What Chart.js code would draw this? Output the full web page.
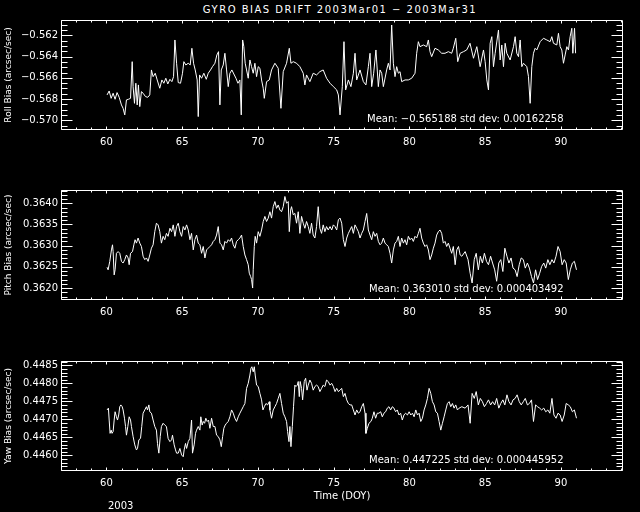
<!DOCTYPE html>
<html><head><meta charset="utf-8">
<script src="https://cdn.jsdelivr.net/npm/chart.js@4"></script>
<style>
html,body{margin:0;padding:0;background:#000;width:640px;height:512px;overflow:hidden}
canvas{position:absolute;left:0}
.t{position:absolute;color:#fff;font-family:'DejaVu Sans',sans-serif;font-size:10px;white-space:nowrap;line-height:12px}
</style></head><body>
<div class="t" style="left:20px;width:640px;text-align:center;top:4px;letter-spacing:1.5px">GYRO BIAS DRIFT 2003Mar01 − 2003Mar31</div>
<canvas id="c1" width="640" height="150" style="top:0"></canvas>
<canvas id="c2" width="640" height="150" style="top:170px"></canvas>
<canvas id="c3" width="640" height="172" style="top:340px"></canvas>
<div class="t" style="left:367px;top:113px">Mean: −0.565188 std dev: 0.00162258</div>
<div class="t" style="left:369px;top:283px">Mean: 0.363010 std dev: 0.000403492</div>
<div class="t" style="left:369px;top:454px">Mean: 0.447225 std dev: 0.000445952</div>
<div class="t" style="left:108px;top:500px">2003</div>
<script>
const dayTicks = [60, 65, 70, 75, 80, 85, 90];
const rollTicks = [-0.570, -0.568, -0.566, -0.564, -0.562];
const pitchTicks = [0.3620, 0.3625, 0.3630, 0.3635, 0.3640];
const yawTicks = [0.4460, 0.4465, 0.4470, 0.4475, 0.4480, 0.4485];

const rollDay = [60.04,60.18,60.31,60.44,60.57,60.70,60.84,60.99,61.10,61.21,61.32,61.45,61.59,61.70,61.76,61.85,61.94,62.03,62.11,62.20,62.31,62.42,62.58,62.73,62.86,62.97,63.08,63.22,63.35,63.52,63.66,63.79,63.92,64.05,64.19,64.32,64.43,64.52,64.63,64.74,64.89,65.02,65.11,65.24,65.40,65.53,65.64,65.75,65.86,65.99,66.06,66.15,66.28,66.43,66.59,66.72,66.87,67.00,67.16,67.29,67.40,67.49,67.58,67.71,67.82,67.93,68.04,68.15,68.28,68.41,68.55,68.68,68.81,68.90,68.99,69.07,69.16,69.25,69.36,69.47,69.58,69.69,69.80,69.91,70.02,70.13,70.24,70.35,70.42,70.57,70.75,
70.90,71.12,71.34,71.52,71.67,71.89,72.07,72.18,72.33,72.55,72.77,72.99,73.10,73.21,73.43,73.65,73.87,74.09,74.31,74.53,74.76,74.98,75.20,75.31,75.42,75.57,75.68,75.79,75.97,76.14,76.30,76.41,76.52,76.74,76.96,77.13,77.29,77.40,77.51,77.64,77.79,77.95,78.06,78.17,78.28,78.50,78.61,78.72,78.83,78.94,79.05,79.16,79.27,79.38,79.49,79.71,79.93,80.15,80.37,80.48,80.59,80.70,80.92,81.14,81.25,81.36,81.47,81.69,81.91,82.13,82.35,82.57,82.79,82.90,83.06,83.19,83.35,83.57,
83.78,84.00,84.23,84.45,84.67,84.89,85.00,85.11,85.22,85.33,85.44,85.55,85.66,85.88,85.99,86.10,86.21,86.32,86.43,86.65,86.87,86.98,87.09,87.20,87.31,87.42,87.53,87.75,87.86,87.97,88.08,88.19,88.30,88.41,88.63,88.85,89.07,89.29,89.40,89.51,89.73,89.84,89.95,90.06,90.17,90.28,90.39,90.50,90.61,90.72,90.79,90.90,90.97];
const rollBias = [-0.56761,-0.56724,-0.56793,-0.56745,-0.56802,-0.56739,-0.56783,-0.56855,-0.56887,-0.56949,-0.56808,-0.56802,-0.56793,-0.56448,-0.56683,-0.56840,-0.56651,-0.56855,-0.56667,-0.56871,-0.56730,-0.56745,-0.56777,-0.56783,-0.56761,-0.56526,-0.56589,-0.56557,-0.56620,-0.56698,-0.56620,-0.56651,-0.56604,-0.56658,-0.56614,-0.56636,-0.56589,-0.56244,-0.56463,-0.56645,-0.56651,-0.56557,-0.56448,-0.56479,-0.56463,-0.56479,-0.56322,-0.56463,-0.56526,-0.56620,-0.56965,-0.56573,-0.56604,-0.56557,-0.56614,-0.56557,-0.56526,-0.56495,-0.56463,-0.56385,-0.56354,-0.56855,-0.56526,-0.56479,-0.56369,-0.56526,-0.56683,-0.56557,-0.56526,-0.56564,-0.56604,-0.56651,-0.56620,-0.56949,-0.56244,-0.56307,-0.56463,-0.56526,-0.56604,-0.56432,-0.56495,-0.56557,-0.56463,-0.56589,-0.56495,-0.56510,-0.56620,-0.56698,-0.56793,-0.56636,-0.56620,
-0.56526,-0.56463,-0.56510,-0.56887,-0.56542,-0.56463,-0.56322,-0.56463,-0.56448,-0.56463,-0.56495,-0.56557,-0.56667,-0.56573,-0.56636,-0.56557,-0.56573,-0.56542,-0.56526,-0.56604,-0.56651,-0.56683,-0.56714,-0.56761,-0.56949,-0.56683,-0.56260,-0.56714,-0.56620,-0.56683,-0.56557,-0.56369,-0.56620,-0.56526,-0.56636,-0.56667,-0.56495,-0.56369,-0.56683,-0.56557,-0.56338,-0.56683,-0.56526,-0.56557,-0.56683,-0.56526,-0.56463,-0.56526,-0.56103,-0.56463,-0.56589,-0.56495,-0.56557,-0.56542,-0.56636,-0.56620,-0.56620,-0.56604,-0.56557,-0.56369,-0.56260,-0.56307,-0.56291,-0.56307,-0.56244,-0.56354,-0.56401,-0.56322,-0.56338,-0.56369,-0.56369,-0.56354,-0.56369,-0.56322,-0.56228,-0.56448,-0.56369,-0.56354,
-0.56338,-0.56275,-0.56416,-0.56307,-0.56495,-0.56338,-0.56448,-0.56620,-0.56714,-0.56275,-0.56213,-0.56495,-0.56369,-0.56150,-0.56432,-0.56291,-0.56495,-0.56275,-0.56369,-0.56432,-0.56307,-0.56213,-0.56369,-0.56401,-0.56244,-0.56495,-0.56463,-0.56495,-0.56589,-0.56840,-0.56495,-0.56369,-0.56322,-0.56338,-0.56260,-0.56228,-0.56244,-0.56260,-0.56213,-0.56275,-0.56291,-0.56181,-0.56307,-0.56338,-0.56463,-0.56385,-0.56307,-0.56338,-0.56213,-0.56134,-0.56369,-0.56134,-0.56369];

const pitchDay = [60.04,60.11,60.22,60.33,60.40,60.44,60.51,60.57,60.66,60.77,60.88,60.99,61.10,61.21,61.32,61.43,61.50,61.59,61.72,61.81,61.89,61.98,62.09,62.20,62.31,62.42,62.53,62.64,62.75,62.86,62.97,63.08,63.19,63.30,63.41,63.52,63.63,63.74,63.85,63.96,64.07,64.19,64.30,64.41,64.52,64.63,64.74,64.85,64.96,65.07,65.18,65.29,65.40,65.51,65.62,65.73,65.84,65.95,66.06,66.17,66.28,66.39,66.50,66.61,66.72,66.83,66.94,67.05,67.16,67.27,67.38,67.49,67.60,67.71,67.82,67.93,68.04,68.15,68.26,68.37,68.48,68.59,68.70,68.81,68.92,69.03,69.14,69.25,69.36,69.43,69.52,69.58,69.65,69.69,69.76,69.82,69.91,70.02,70.13,70.24,70.35,70.46,70.57,70.68,
70.79,70.90,71.01,71.12,71.23,71.34,71.45,71.56,71.67,71.78,71.89,72.00,72.07,72.16,72.22,72.33,72.44,72.55,72.66,72.77,72.88,72.99,73.10,73.21,73.32,73.43,73.54,73.65,73.76,73.87,73.98,74.09,74.20,74.31,74.42,74.53,74.64,74.76,74.87,74.98,75.09,75.20,75.31,75.42,75.53,75.64,75.75,75.86,75.97,76.08,76.19,76.30,76.41,76.52,76.63,76.74,76.85,76.96,77.07,77.18,77.29,77.40,77.51,77.62,77.73,77.84,77.95,78.06,78.17,78.28,78.39,78.50,78.61,78.72,78.83,78.94,79.05,79.16,79.27,79.38,79.49,79.60,79.71,79.82,79.93,80.04,80.15,80.26,80.37,80.48,80.59,80.70,80.81,80.92,81.03,81.14,81.25,81.36,81.47,81.58,81.69,81.80,81.91,82.02,82.13,82.24,82.35,82.46,82.57,82.68,82.79,82.90,83.02,83.13,83.24,83.35,83.46,83.68,
83.87,84.01,84.14,84.28,84.41,84.55,84.68,84.82,84.95,85.09,85.22,85.36,85.49,85.63,85.76,85.90,86.03,86.17,86.30,86.44,86.57,86.71,86.84,86.98,87.11,87.25,87.38,87.52,87.65,87.79,87.92,88.06,88.19,88.33,88.46,88.60,88.73,88.87,89.00,89.14,89.27,89.41,89.54,89.68,89.81,89.95,90.08,90.22,90.35,90.49,90.62,90.76,90.89,91.03];
const pitchBias = [0.36249,0.36243,0.36263,0.36290,0.36302,0.36286,0.36231,0.36243,0.36282,0.36286,0.36282,0.36263,0.36259,0.36267,0.36278,0.36271,0.36255,0.36282,0.36286,0.36302,0.36314,0.36306,0.36318,0.36306,0.36298,0.36275,0.36267,0.36271,0.36263,0.36278,0.36294,0.36302,0.36333,0.36353,0.36349,0.36333,0.36306,0.36322,0.36314,0.36329,0.36322,0.36341,0.36333,0.36349,0.36322,0.36345,0.36353,0.36333,0.36322,0.36345,0.36337,0.36349,0.36337,0.36314,0.36329,0.36290,0.36314,0.36325,0.36306,0.36302,0.36282,0.36298,0.36271,0.36290,0.36294,0.36298,0.36302,0.36310,0.36314,0.36325,0.36345,0.36306,0.36302,0.36290,0.36310,0.36306,0.36314,0.36310,0.36318,0.36302,0.36294,0.36310,0.36314,0.36318,0.36325,0.36298,0.36278,0.36267,0.36255,0.36235,0.36227,0.36220,0.36200,0.36243,0.36298,0.36322,0.36306,0.36333,0.36322,0.36337,0.36357,0.36369,0.36357,0.36365,
0.36380,0.36365,0.36392,0.36404,0.36388,0.36396,0.36384,0.36380,0.36392,0.36416,0.36400,0.36404,0.36333,0.36384,0.36392,0.36373,0.36376,0.36353,0.36380,0.36329,0.36369,0.36353,0.36341,0.36357,0.36345,0.36329,0.36353,0.36325,0.36318,0.36345,0.36392,0.36341,0.36329,0.36349,0.36333,0.36345,0.36337,0.36345,0.36337,0.36349,0.36345,0.36337,0.36361,0.36365,0.36353,0.36314,0.36298,0.36318,0.36329,0.36337,0.36345,0.36329,0.36349,0.36341,0.36333,0.36318,0.36329,0.36337,0.36357,0.36376,0.36337,0.36325,0.36314,0.36333,0.36322,0.36329,0.36310,0.36302,0.36306,0.36318,0.36306,0.36302,0.36298,0.36282,0.36259,0.36290,0.36306,0.36310,0.36322,0.36298,0.36318,0.36306,0.36314,0.36302,0.36322,0.36314,0.36318,0.36310,0.36322,0.36318,0.36329,0.36341,0.36318,0.36306,0.36298,0.36302,0.36290,0.36267,0.36278,0.36294,0.36306,0.36325,0.36333,0.36337,0.36329,0.36306,0.36310,0.36298,0.36306,0.36294,0.36282,0.36298,0.36255,0.36290,0.36298,0.36278,0.36275,0.36286,
0.36267,0.36235,0.36212,0.36267,0.36282,0.36243,0.36275,0.36259,0.36282,0.36263,0.36255,0.36275,0.36259,0.36243,0.36216,0.36259,0.36267,0.36239,0.36294,0.36275,0.36259,0.36271,0.36247,0.36243,0.36227,0.36255,0.36271,0.36267,0.36247,0.36259,0.36247,0.36227,0.36212,0.36243,0.36220,0.36235,0.36251,0.36259,0.36247,0.36267,0.36255,0.36267,0.36259,0.36275,0.36298,0.36286,0.36255,0.36267,0.36259,0.36220,0.36243,0.36259,0.36263,0.36243];

const yawDay = [60.04,60.13,60.18,60.24,60.31,60.37,60.44,60.51,60.57,60.66,60.73,60.81,60.88,60.95,61.04,61.10,61.19,61.26,61.32,61.41,61.50,61.59,61.65,61.76,61.87,61.98,62.05,62.14,62.25,62.33,62.42,62.53,62.64,62.71,62.80,62.86,62.97,63.08,63.19,63.30,63.37,63.46,63.55,63.63,63.74,63.85,63.96,64.07,64.19,64.30,64.36,64.47,64.56,64.63,64.74,64.85,64.96,65.07,65.13,65.22,65.29,65.40,65.51,65.62,65.68,65.79,65.88,65.95,66.06,66.17,66.23,66.32,66.39,66.48,66.56,66.65,66.74,66.83,66.94,67.05,67.16,67.27,67.38,67.49,67.58,67.67,67.75,67.84,67.93,68.04,68.15,68.26,68.37,68.48,68.59,68.70,68.81,68.92,69.03,69.14,69.25,69.36,69.47,69.54,69.60,69.69,69.76,69.82,69.91,70.02,70.13,70.24,70.33,70.42,70.53,70.64,70.75,
70.79,70.90,71.01,71.12,71.23,71.34,71.45,71.56,71.67,71.78,71.89,71.96,72.05,72.11,72.18,72.27,72.35,72.44,72.51,72.60,72.66,72.73,72.79,72.88,72.95,73.06,73.15,73.24,73.32,73.43,73.54,73.65,73.76,73.87,73.98,74.09,74.20,74.31,74.42,74.53,74.64,74.76,74.87,74.98,75.09,75.20,75.31,75.42,75.53,75.64,75.75,75.86,75.97,76.08,76.19,76.30,76.41,76.52,76.63,76.74,76.85,76.96,77.07,77.13,77.22,77.33,77.46,77.55,77.66,77.77,77.88,77.99,78.10,78.21,78.32,78.43,78.54,78.65,78.76,78.87,78.98,79.09,79.20,79.31,79.42,79.53,79.64,79.75,79.87,79.98,80.09,80.20,80.31,80.42,80.53,80.64,80.75,80.86,80.97,81.08,81.19,81.30,81.41,81.52,81.63,81.74,81.85,81.96,82.07,82.18,82.29,82.40,82.51,82.62,82.73,82.84,82.95,83.06,83.17,83.28,83.46,83.68,
83.87,84.01,84.14,84.28,84.41,84.55,84.68,84.82,84.95,85.09,85.22,85.36,85.49,85.63,85.76,85.90,86.03,86.17,86.30,86.44,86.57,86.71,86.84,86.98,87.11,87.25,87.38,87.52,87.65,87.79,87.92,88.06,88.19,88.33,88.46,88.60,88.73,88.87,89.00,89.14,89.27,89.41,89.54,89.68,89.81,89.95,90.08,90.22,90.35,90.49,90.62,90.76,90.89,91.03];
const yawBias = [0.44726,0.44731,0.44698,0.44661,0.44670,0.44661,0.44666,0.44698,0.44721,0.44707,0.44698,0.44712,0.44735,0.44740,0.44735,0.44726,0.44703,0.44680,0.44656,0.44680,0.44707,0.44698,0.44680,0.44652,0.44629,0.44615,0.44619,0.44643,0.44647,0.44680,0.44717,0.44726,0.44735,0.44726,0.44740,0.44721,0.44717,0.44698,0.44680,0.44670,0.44633,0.44606,0.44652,0.44680,0.44689,0.44684,0.44680,0.44647,0.44638,0.44643,0.44656,0.44629,0.44615,0.44606,0.44606,0.44619,0.44601,0.44596,0.44615,0.44633,0.44619,0.44638,0.44647,0.44698,0.44606,0.44629,0.44661,0.44670,0.44680,0.44670,0.44707,0.44684,0.44694,0.44689,0.44703,0.44694,0.44698,0.44675,0.44703,0.44680,0.44680,0.44656,0.44652,0.44643,0.44624,0.44652,0.44675,0.44684,0.44689,0.44694,0.44707,0.44726,0.44717,0.44703,0.44694,0.44707,0.44717,0.44726,0.44735,0.44744,0.44786,0.44800,0.44823,0.44842,0.44846,0.44832,0.44846,0.44823,0.44795,0.44791,0.44772,0.44754,0.44726,0.44735,0.44744,0.44740,0.44749,
0.44726,0.44703,0.44726,0.44735,0.44744,0.44758,0.44772,0.44744,0.44717,0.44707,0.44694,0.44666,0.44638,0.44680,0.44624,0.44680,0.44735,0.44795,0.44791,0.44795,0.44805,0.44763,0.44805,0.44786,0.44754,0.44805,0.44814,0.44781,0.44795,0.44809,0.44800,0.44781,0.44791,0.44795,0.44791,0.44777,0.44786,0.44795,0.44791,0.44809,0.44805,0.44795,0.44800,0.44791,0.44777,0.44786,0.44777,0.44781,0.44786,0.44763,0.44772,0.44754,0.44744,0.44740,0.44740,0.44726,0.44712,0.44726,0.44717,0.44721,0.44735,0.44744,0.44717,0.44661,0.44675,0.44689,0.44694,0.44703,0.44721,0.44703,0.44717,0.44717,0.44721,0.44707,0.44717,0.44721,0.44731,0.44735,0.44726,0.44735,0.44731,0.44721,0.44726,0.44712,0.44717,0.44698,0.44712,0.44717,0.44712,0.44721,0.44712,0.44717,0.44707,0.44726,0.44712,0.44717,0.44694,0.44703,0.44726,0.44740,0.44758,0.44786,0.44772,0.44749,0.44740,0.44721,0.44717,0.44694,0.44670,0.44689,0.44707,0.44726,0.44744,0.44749,0.44735,0.44744,0.44731,0.44740,0.44726,0.44731,0.44735,0.44731,
0.44740,0.44689,0.44772,0.44758,0.44777,0.44740,0.44758,0.44749,0.44735,0.44744,0.44754,0.44740,0.44749,0.44740,0.44758,0.44731,0.44744,0.44754,0.44740,0.44768,0.44749,0.44740,0.44754,0.44758,0.44768,0.44749,0.44740,0.44749,0.44758,0.44740,0.44744,0.44754,0.44694,0.44740,0.44735,0.44731,0.44726,0.44731,0.44721,0.44726,0.44717,0.44758,0.44712,0.44703,0.44717,0.44712,0.44694,0.44712,0.44744,0.44740,0.44735,0.44721,0.44726,0.44703];

const FONT = "'DejaVu Sans', sans-serif";
Chart.defaults.color = '#fff';
Chart.defaults.font.family = FONT;
Chart.defaults.font.size = 10;

const ioFrame = {
  id: 'ioFrame',
  afterDraw(chart) {
    const o = chart.options.plugins.ioFrame;
    const {ctx, chartArea: a, scales: {x, y}} = chart;
    ctx.save();
    ctx.strokeStyle = '#fff';
    ctx.lineWidth = 1;
    const L = Math.round(a.left) + 0.5, R = Math.round(a.right) - 0.5;
    const T = Math.round(a.top) + 0.5, B = Math.round(a.bottom) - 0.5;
    ctx.beginPath();
    ctx.rect(L, T, R - L, B - T);
    for (let v = Math.ceil(x.min); v <= x.max; v += 1) {
      const px = Math.round(x.getPixelForValue(v)) + 0.5;
      const len = (v % 5 === 0) ? 3 : 2;
      ctx.moveTo(px, B); ctx.lineTo(px, B - len);
      ctx.moveTo(px, T); ctx.lineTo(px, T + len);
    }
    const k0 = Math.ceil(y.min / o.yMinor - 1e-6), k1 = Math.floor(y.max / o.yMinor + 1e-6);
    for (let k = k0; k <= k1; k++) {
      const v = k * o.yMinor;
      const r = v / o.yMajor;
      const major = Math.abs(r - Math.round(r)) < 1e-6;
      const len = major ? 11 : 6;
      const py = Math.round(y.getPixelForValue(v)) + 0.5;
      ctx.moveTo(L, py); ctx.lineTo(L + len, py);
      ctx.moveTo(R, py); ctx.lineTo(R - len, py);
    }
    ctx.stroke();
    ctx.restore();
  }
};

function makePanel(id, days, vals, cfg) {
  const pts = days.map((d, i) => ({x: d, y: vals[i]}));
  return new Chart(document.getElementById(id), {
    type: 'line',
    data: {datasets: [{data: pts, borderColor: '#fff', borderWidth: 1, pointRadius: 0, tension: 0, fill: false}]},
    options: {
      responsive: false, animation: false, events: [],
      layout: {padding: {top: cfg.top, right: 17, left: 0, bottom: 0}},
      plugins: {legend: {display: false}, tooltip: {enabled: false}, ioFrame: {yMajor: cfg.yMajor, yMinor: cfg.yMinor}},
      scales: {
        x: {
          type: 'linear', min: 57, max: 94.1,
          grid: {display: false, drawTicks: false}, border: {display: false},
          afterFit(s) { s.height = cfg.xh; },
          afterBuildTicks(s) { s.ticks = dayTicks.map(v => ({value: v})); },
          ticks: {color: '#fff', padding: 6, maxRotation: 0, autoSkip: false, font: {family: FONT, size: 10}, callback: v => String(v)},
          title: cfg.xTitle ? {display: true, text: cfg.xTitle, color: '#fff', font: {family: FONT, size: 10}, padding: {top: 0, bottom: 10}} : {display: false}
        },
        y: {
          type: 'linear', min: cfg.ymin, max: cfg.ymax,
          grid: {display: false, drawTicks: false}, border: {display: false},
          afterFit(s) { s.width = 61; },
          afterBuildTicks(s) { s.ticks = cfg.yTicks.map(v => ({value: v})); },
          ticks: {color: '#fff', padding: 3, autoSkip: false, font: {family: FONT, size: 10}, callback: v => Number(v).toFixed(cfg.dec).replace('-', '\u2212')},
          title: {display: true, text: cfg.yTitle, color: '#fff', font: {family: FONT, size: 9}, padding: {top: 3, bottom: 0}}
        }
      }
    },
    plugins: [ioFrame]
  });
}

makePanel('c1', rollDay, rollBias, {top: 20, xh: 20, ymin: -0.57091, ymax: -0.56056, yTicks: rollTicks, dec: 3, yMajor: 0.002, yMinor: 0.0005, yTitle: 'Roll Bias (arcsec/sec)'});
makePanel('c2', pitchDay, pitchBias, {top: 20, xh: 20, ymin: 0.361718, ymax: 0.364313, yTicks: pitchTicks, dec: 4, yMajor: 0.0005, yMinor: 0.0001, yTitle: 'Pitch Bias (arcsec/sec)'});
makePanel('c3', yawDay, yawBias, {top: 21, xh: 41, ymin: 0.445564, ymax: 0.44862, yTicks: yawTicks, dec: 4, yMajor: 0.0005, yMinor: 0.0001, yTitle: 'Yaw Bias (arcsec/sec)', xTitle: 'Time (DOY)'});
</script>
</body></html>
